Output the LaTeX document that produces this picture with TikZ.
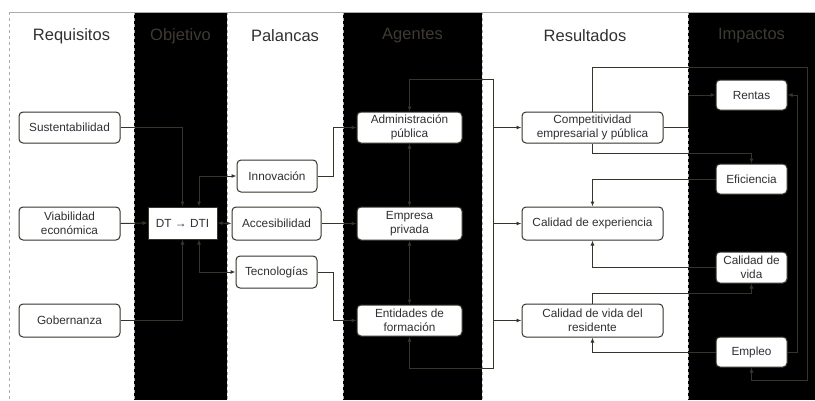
\documentclass[tikz,border=0pt]{standalone}
\usepackage{fontspec}
\setmainfont{Liberation Sans}
\usetikzlibrary{arrows.meta,calc,positioning}

\definecolor{linec}{RGB}{55,52,43}
\definecolor{txtc}{RGB}{48,48,48}
\definecolor{dimc}{RGB}{62,59,50}

\begin{document}
\begin{tikzpicture}[x=1pt,y=-1pt,
  box/.style={draw=linec,fill=white,rounded corners=4pt,line width=1pt,
    minimum width=101pt,minimum height=31pt,align=center,text=txtc,
    font=\fontsize{11.8}{13.8}\selectfont,inner sep=1pt},
  smallbox/.style={box,minimum width=71pt,minimum height=30pt},
  head/.style={font=\fontsize{16.5}{18}\selectfont,text=txtc},
  dimhead/.style={head,text=dimc},
  conn/.style={draw=linec,line width=1pt,-{Latex[length=5pt,width=4pt]}},
  both/.style={conn,{Latex[length=5pt,width=4pt]}-{Latex[length=5pt,width=4pt]}},
  sep/.style={draw=gray!65,line width=0.7pt,dashed}]
  \useasboundingbox (0,0) rectangle (815,400);
  % columns
  \fill[black] (134,12) rectangle (227,400);
  \fill[black] (343,12) rectangle (482,400);
  \fill[black] (688,12) rectangle (815,400);
  \draw[gray!65,line width=0.7pt] (9,12) -- (815,12);
  \foreach \xs in {9,134,227,343,482,688}
    \draw[sep] (\xs,12) -- (\xs,400);
  \node[head] (hreq) at (71.5,36) {Requisitos};
  \node[dimhead] (hobj) at (180.5,36) {Objetivo};
  \node[head] (hpal) at (285,36) {Palancas};
  \node[dimhead] (hage) at (412.5,36) {Agentes};
  \node[head] (hres) at (585,36) {Resultados};
  \node[dimhead] (himp) at (751.5,36) {Impactos};

  % requisitos
  \node[box] (sus) at (69.5,127.5) {Sustentabilidad};
  \node[box,minimum height=33pt] (via) at (69.5,223.5) {Viabilidad\\económica};
  \node[box,minimum height=33pt] (gob) at (69.5,320.5) {Gobernanza};
  % objetivo
  \node[draw=linec,fill=white,line width=1pt,minimum width=69pt,minimum height=32pt,
    text=txtc,font=\fontsize{11.8}{13.8}\selectfont] (dt) at (182.5,223) {DT → DTI};
  % palancas
  \node[box,minimum width=80pt,minimum height=32pt] (inn) at (277,176) {Innovación};
  \node[box,minimum width=89pt,minimum height=33pt] (acc) at (276.5,223.5) {Accesibilidad};
  \node[box,minimum width=81pt,minimum height=32pt] (tec) at (276.5,272) {Tecnologías};
  % agentes
  \node[box,minimum width=105pt] (adm) at (409.5,127.5) {Administración\\pública};
  \node[box,minimum width=105pt,minimum height=33pt] (emp) at (409.5,223.5) {Empresa\\privada};
  \node[box,minimum width=105pt] (ent) at (409.5,320.5) {Entidades de\\formación};
  % resultados
  \node[box,minimum width=141pt] (com) at (592.5,127.5) {Competitividad\\empresarial y pública};
  \node[box,minimum width=141pt,minimum height=33pt] (exp) at (592.5,223.5) {Calidad de experiencia};
  \node[box,minimum width=141pt,minimum height=33pt] (res) at (592.5,320.5) {Calidad de vida del\\residente};
  % impactos
  \node[smallbox] (ren) at (751.5,95) {Rentas};
  \node[smallbox] (efi) at (751.5,179) {Eficiencia};
  \node[smallbox,minimum height=31pt] (cvi) at (751.5,267.5) {Calidad de\\vida};
  \node[smallbox] (empl) at (751.5,352) {Empleo};

  % requisitos -> objetivo -> palancas
  \draw[conn] (sus.east) -| (dt.north);
  \draw[conn] (via.east) -- (dt.west);
  \draw[conn] (gob.east) -| (dt.south);
  \draw[both] ([xshift=16.5pt]dt.north) |- (inn.west);
  \draw[both] (dt.east) -- (acc.west);
  \draw[both] ([xshift=16.5pt]dt.south) |- (tec.west);

  % palancas -> agentes
  \coordinate (pb) at (333,0);
  \draw[conn] (inn.east) -- (inn.east -| pb) |- (adm.west);
  \draw[conn] (tec.east) -- (tec.east -| pb) |- (ent.west);
  \draw[conn] (acc.east) -- (emp.west);
  \draw[both] (adm.south) -- (emp.north);
  \draw[both] (emp.south) -- (ent.north);

  % agentes -> resultados
  \coordinate (lt) at (493,79);
  \coordinate (lb) at (493,368);
  \draw[both] (adm.north) |- (lt) -- (lb) -| (ent.south);
  \draw[conn] (lt |- com.west) -- (com.west);
  \draw[conn] (lt |- exp.west) -- (exp.west);
  \draw[conn] (lt |- res.west) -- (res.west);

  % resultados <-> impactos
  \coordinate (ctop) at (807,67);
  \coordinate (cbot) at (807,380);
  \coordinate (rb) at (688,0);
  \draw[conn] (com.north) |- (ctop) -- (cbot) -| (empl.south);
  \draw[conn] (com.east) -- (com.east -| rb) |- (ren.west);
  \draw[conn] (com.south) -- ++(0,10) -| (efi.north);
  \draw[conn] (efi.west) -| (exp.north);
  \draw[conn] (cvi.west) -| (exp.south);
  \draw[conn] (res.north) -- ++(0,-10) -| (cvi.south);
  \draw[conn] (empl.west) -| (res.south);
  \draw[conn] (empl.east) -- ++(10,0) |- (ren.east);
\end{tikzpicture}
\end{document}
